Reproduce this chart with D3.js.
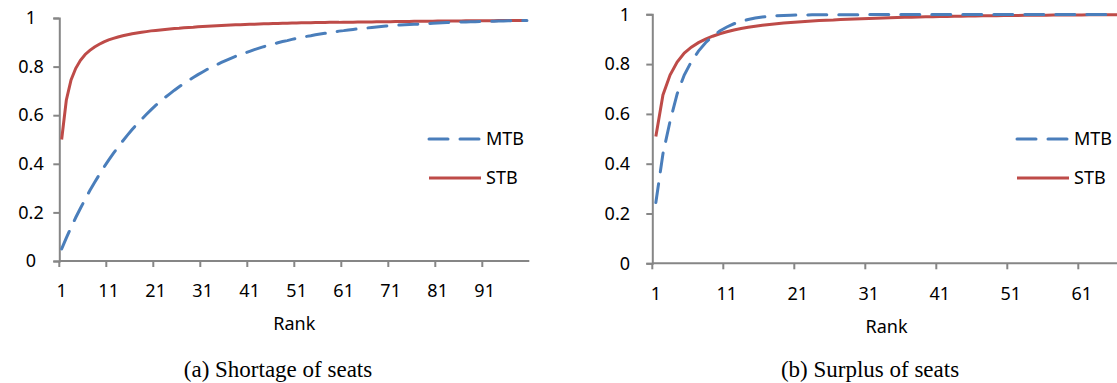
<!DOCTYPE html>
<html>
<head>
<meta charset="utf-8">
<script src="https://cdn.jsdelivr.net/npm/d3@7"></script>
<style>
  body { margin: 0; background: #fff; }
  text { font-family: "Noto Sans", sans-serif; fill: #000; }
  .caption { font-family: "Liberation Serif", serif; }
  .axis path, .axis line { stroke: #868686; stroke-width: 2; }
</style>
</head>
<body>
<svg id="chart" width="1117" height="383"></svg>
<script>
// (a) Shortage of seats, ranks 1..100
const shortMTB = [
  0.050,0.095,0.138,0.179,0.217,0.254,0.290,0.323,0.355,0.386,
  0.415,0.443,0.469,0.494,0.518,0.541,0.563,0.583,0.603,0.622,
  0.640,0.657,0.673,0.688,0.703,0.717,0.730,0.743,0.755,0.767,
  0.778,0.789,0.799,0.808,0.817,0.826,0.834,0.842,0.849,0.856,
  0.863,0.870,0.876,0.882,0.887,0.893,0.898,0.903,0.907,0.912,
  0.916,0.920,0.924,0.927,0.931,0.934,0.937,0.940,0.943,0.946,
  0.948,0.951,0.953,0.955,0.957,0.959,0.961,0.963,0.965,0.967,
  0.968,0.970,0.971,0.972,0.973,0.974,0.975,0.976,0.977,0.978,
  0.979,0.980,0.981,0.982,0.983,0.984,0.984,0.985,0.985,0.986,
  0.986,0.987,0.987,0.988,0.988,0.989,0.989,0.989,0.990,0.990
];
const shortSTB = [
  0.500,0.663,0.745,0.793,0.826,0.850,0.867,0.881,0.892,0.902,
  0.910,0.916,0.922,0.927,0.931,0.935,0.938,0.941,0.944,0.947,
  0.949,0.951,0.953,0.955,0.957,0.958,0.960,0.961,0.962,0.964,
  0.965,0.966,0.967,0.968,0.969,0.970,0.971,0.972,0.972,0.973,
  0.974,0.974,0.975,0.976,0.976,0.977,0.977,0.978,0.978,0.979,
  0.979,0.980,0.980,0.980,0.981,0.981,0.981,0.982,0.982,0.982,
  0.983,0.983,0.983,0.984,0.984,0.984,0.984,0.985,0.985,0.985,
  0.985,0.986,0.986,0.986,0.986,0.987,0.987,0.987,0.987,0.987,
  0.988,0.988,0.988,0.988,0.988,0.988,0.989,0.989,0.989,0.989,
  0.989,0.989,0.989,0.990,0.990,0.990,0.990,0.990,0.990,0.990
];

// (b) Surplus of seats, ranks 1..66
const surplusMTB = [
  0.244,0.440,0.570,0.680,0.756,0.810,0.852,0.886,0.912,0.933,
  0.949,0.962,0.972,0.979,0.985,0.989,0.992,0.994,0.995,0.996,
  0.997,0.997,0.998,0.998,0.998,0.998,0.998,0.998,0.998,0.998,
  0.999,0.999,0.999,0.999,0.999,0.999,0.999,0.999,0.999,0.999,
  0.999,0.999,0.999,0.999,0.999,0.999,0.999,0.999,0.999,0.999,
  0.999,0.999,0.999,0.999,0.999,0.999,0.999,0.999,0.999,0.999,
  0.999,0.999,0.999,0.999,0.999,0.999
];
const surplusSTB = [
  0.509,0.676,0.756,0.808,0.844,0.868,0.886,0.900,0.912,0.922,
  0.930,0.937,0.943,0.948,0.952,0.956,0.959,0.962,0.965,0.967,
  0.969,0.971,0.973,0.975,0.976,0.977,0.979,0.980,0.981,0.982,
  0.983,0.984,0.985,0.986,0.987,0.988,0.988,0.989,0.990,0.990,
  0.991,0.991,0.992,0.992,0.993,0.993,0.994,0.994,0.994,0.995,
  0.995,0.995,0.996,0.996,0.996,0.996,0.997,0.997,0.997,0.997,
  0.997,0.998,0.998,0.998,0.998,0.998
];

const yTicks = [0, 0.2, 0.4, 0.6, 0.8, 1];
const shortTicks = [1, 11, 21, 31, 41, 51, 61, 71, 81, 91];
const surplusTicks = [1, 11, 21, 31, 41, 51, 61];
const seriesNames = ["MTB", "STB"];
const colors = { MTB: "#4a7ebb", STB: "#be4b48" };

const svg = d3.select("#chart");
const fmtY = d => d === 1 ? "1" : d === 0 ? "0" : d3.format(".1f")(d);

function drawPanel(cfg) {
  const n = cfg.mtb.length;
  const ranks = d3.range(1, n + 1);
  const x = d3.scaleBand().domain(ranks).range([cfg.left, cfg.left + n * cfg.step]);
  const cx = r => x(r) + x.bandwidth() / 2;
  const y = d3.scaleLinear().domain([0, 1]).range([cfg.bottom, cfg.top]);

  const g = svg.append("g");

  // y axis
  const yAxis = g.append("g")
    .attr("class", "axis")
    .attr("transform", `translate(${cfg.left},0)`)
    .call(d3.axisLeft(y).tickValues(yTicks).tickFormat(fmtY).tickSizeOuter(0).tickSize(6));
  yAxis.selectAll("text")
    .attr("x", cfg.yLabelX - cfg.left)
    .attr("text-anchor", cfg.yAnchor)
    .style("font-size", "18px")
    .style("font-family", "Noto Sans");

  // x axis: ticks at category boundaries, labels centred on category
  const xg = g.append("g")
    .attr("class", "axis")
    .attr("transform", `translate(0,${cfg.bottom})`);
  xg.append("line")
    .attr("x1", cfg.left).attr("x2", cfg.left + n * cfg.step);
  xg.selectAll(".tk")
    .data(cfg.ticks)
    .enter()
    .append("line")
    .attr("class", "tk")
    .attr("x1", d => x(d)).attr("x2", d => x(d))
    .attr("y1", 0).attr("y2", 6);
  xg.selectAll(".lbl")
    .data(cfg.ticks)
    .enter()
    .append("text")
    .attr("class", "lbl")
    .attr("x", d => cx(d))
    .attr("y", cfg.labelY - cfg.bottom)
    .attr("text-anchor", "middle")
    .style("font-size", "18px")
    .text(d => d);

  g.append("text")
    .attr("x", cfg.left + n * cfg.step / 2)
    .attr("y", cfg.rankY)
    .attr("text-anchor", "middle")
    .style("font-size", "18px")
    .text("Rank");

  // lines
  const line = d3.line().x((d, i) => cx(ranks[i])).y(d => y(d));
  g.append("path")
    .attr("d", line(cfg.stb))
    .attr("fill", "none")
    .attr("stroke", colors.STB)
    .attr("stroke-width", 3);
  g.append("path")
    .attr("d", line(cfg.mtb))
    .attr("fill", "none")
    .attr("stroke", colors.MTB)
    .attr("stroke-width", 3)
    .attr("stroke-linecap", "round")
    .attr("stroke-dasharray", "19 12");

  // legend
  const legend = g.selectAll(".legend")
    .data(seriesNames)
    .enter()
    .append("g")
    .attr("transform", (d, i) => `translate(${cfg.legendX},${cfg.legendY + i * 39})`);
  legend.append("line")
    .attr("x1", 0).attr("x2", 52)
    .attr("stroke", d => colors[d])
    .attr("stroke-width", 3)
    .attr("stroke-linecap", d => d === "MTB" ? "round" : "butt")
    .attr("stroke-dasharray", d => d === "MTB" ? "19 12" : null);
  legend.append("text")
    .attr("x", 57)
    .attr("dy", "0.35em")
    .style("font-size", "18px")
    .text(d => d);

  svg.append("text")
    .attr("class", "caption")
    .attr("x", cfg.captionX)
    .attr("y", 377)
    .attr("text-anchor", "middle")
    .style("font-size", "23px")
    .text(cfg.caption);
}

drawPanel({
  mtb: shortMTB, stb: shortSTB, ticks: shortTicks,
  left: 59.3, step: 4.7, top: 18, bottom: 261,
  yLabelX: 31, yAnchor: "middle",
  labelY: 297, rankY: 330,
  legendX: 429, legendY: 139,
  captionX: 278, caption: "(a) Shortage of seats"
});

drawPanel({
  mtb: surplusMTB, stb: surplusSTB, ticks: surplusTicks,
  left: 652.3, step: 7.1, top: 14.3, bottom: 263.3,
  yLabelX: 630, yAnchor: "end",
  labelY: 300, rankY: 333,
  legendX: 1017, legendY: 139,
  captionX: 870, caption: "(b) Surplus of seats"
});
</script>
</body>
</html>
